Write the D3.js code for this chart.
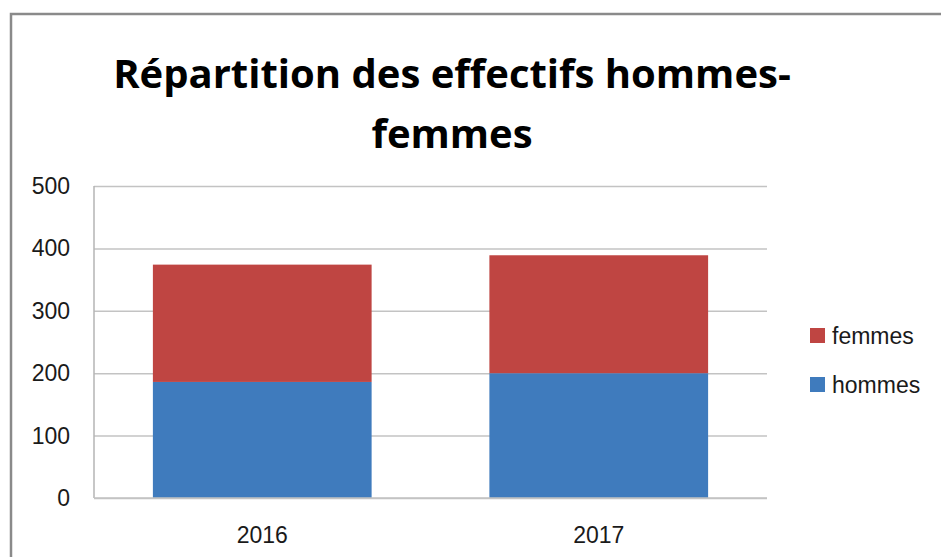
<!DOCTYPE html>
<html>
<head>
<meta charset="utf-8">
<title>Répartition des effectifs hommes-femmes</title>
<script src="https://cdn.jsdelivr.net/npm/d3@7/dist/d3.min.js"></script>
<style>
	body{ margin:0; background:#fff; }
	text{ font-family:"Liberation Sans", Arial, sans-serif; fill:#1a1a1a; }
	.grid line{ stroke:#c3c3c3; stroke-width:1.5; }
	.grid path.domain{ display:none; }
</style>
</head>
<body>
<div id="chart"></div>
<script>
var years = ["2016","2017"];
var hommes = [186, 200];
var femmes = [188, 189];
var series_names = ["hommes","femmes"];
var y_ticks = [0,100,200,300,400,500];
var title_lines = ["Répartition des effectifs hommes-","femmes"];

var w = 941, h = 557;
var plot_left = 94, plot_right = 767, plot_top = 186, plot_bottom = 498;
var colors = {hommes:"#3f7bbd", femmes:"#bf4542"};

var svg = d3.select("#chart").append("svg").attr("width",w).attr("height",h);

/* cadre */
svg.append("rect").attr("x",11).attr("y",14).attr("width",w+20).attr("height",h+20)
	.attr("fill","none").attr("stroke","#8a8a8a").attr("stroke-width",2.5);

/* titre */
svg.selectAll(".title").data(title_lines).enter().append("text")
	.attr("class","title")
	.attr("x",452).attr("y",function(d,i){ return 88+i*60; })
	.attr("text-anchor","middle")
	.style("font-family","'Open Sans', sans-serif")
	.style("font-weight","bold").style("font-size","40px")
	.style("fill","#000")
	.text(function(d){ return d; });

var x_scale = d3.scaleBand().domain(years).range([plot_left,plot_right]).paddingInner(0.35).paddingOuter(0.175);
var y_scale = d3.scaleLinear().domain([0,500]).range([plot_bottom,plot_top]);

/* grille horizontale */
svg.append("g").attr("class","grid")
	.attr("transform","translate("+plot_left+",0)")
	.call(d3.axisLeft(y_scale).tickValues(y_ticks).tickSize(-(plot_right-plot_left)).tickFormat(""));

/* axe vertical */
svg.append("line").attr("x1",plot_left).attr("x2",plot_left).attr("y1",plot_top).attr("y2",plot_bottom)
	.attr("stroke","#b5b5b5").attr("stroke-width",1.5);

/* labels y */
svg.selectAll(".ylab").data(y_ticks).enter().append("text")
	.attr("class","ylab")
	.attr("x",70).attr("y",function(d){ return y_scale(d)+8; })
	.attr("text-anchor","end").style("font-size","23px")
	.text(function(d){ return d; });

/* barres empilées */
var table = years.map(function(y,i){ return {year:y, hommes:hommes[i], femmes:femmes[i]}; });
var stack = d3.stack().keys(series_names)(table);
svg.append("g").selectAll("g").data(stack).enter().append("g")
	.attr("fill",function(d){ return colors[d.key]; })
	.selectAll("rect").data(function(d){ return d; }).enter().append("rect")
	.attr("x",function(d){ return x_scale(d.data.year); })
	.attr("width",x_scale.bandwidth())
	.attr("y",function(d){ return y_scale(d[1]); })
	.attr("height",function(d){ return y_scale(d[0]) - y_scale(d[1]); });

/* ligne de base */
svg.append("line").attr("x1",plot_left).attr("x2",plot_right).attr("y1",plot_bottom).attr("y2",plot_bottom)
	.attr("stroke","#c3c3c3").attr("stroke-width",1.5);

/* labels x */
svg.selectAll(".xlab").data(years).enter().append("text")
	.attr("class","xlab")
	.attr("x",function(d){ return x_scale(d)+x_scale.bandwidth()/2; })
	.attr("y",543).attr("text-anchor","middle").style("font-size","23px")
	.text(function(d){ return d; });

/* légende */
var legend_items = ["femmes","hommes"];
var lg = svg.append("g").selectAll("g").data(legend_items).enter().append("g")
	.attr("transform",function(d,i){ return "translate(810,"+(328+i*49)+")"; });
lg.append("rect").attr("width",15).attr("height",15).attr("fill",function(d){ return colors[d]; });
lg.append("text").attr("x",22).attr("y",16).style("font-size","23px").text(function(d){ return d; });
</script>
</body>
</html>
